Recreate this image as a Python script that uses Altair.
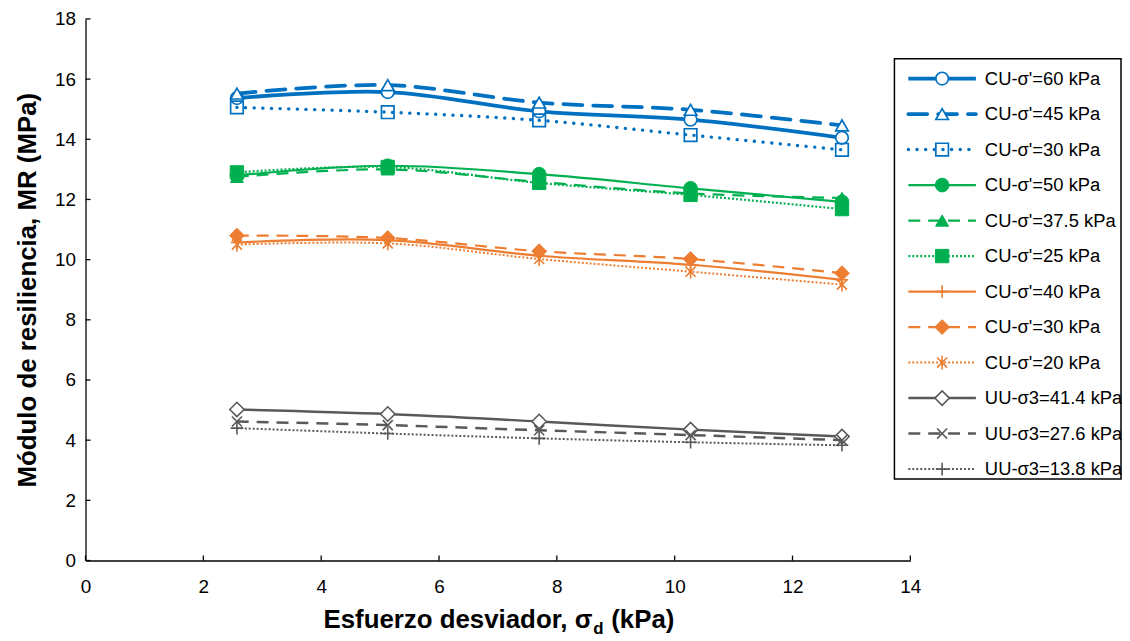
import altair as alt
import pandas as pd

# ---------------- data ----------------
X_VALUES = [2.57, 5.13, 7.70, 10.27, 12.84]

SERIES_LABELS = [
    "CU-σ'=60 kPa", "CU-σ'=45 kPa", "CU-σ'=30 kPa",
    "CU-σ'=50 kPa", "CU-σ'=37.5 kPa", "CU-σ'=25 kPa",
    "CU-σ'=40 kPa", "CU-σ'=30 kPa", "CU-σ'=20 kPa",
    "UU-σ3=41.4 kPa", "UU-σ3=27.6 kPa", "UU-σ3=13.8 kPa",
]

MR_CU_60 = [15.37, 15.57, 14.93, 14.65, 14.05]
MR_CU_45 = [15.52, 15.80, 15.22, 14.98, 14.46]
MR_CU_30_BLUE = [15.06, 14.90, 14.63, 14.14, 13.65]
MR_CU_50 = [12.80, 13.12, 12.84, 12.37, 11.92]
MR_CU_37_5 = [12.75, 13.00, 12.58, 12.20, 12.05]
MR_CU_25 = [12.90, 13.08, 12.55, 12.15, 11.68]
MR_CU_40 = [10.57, 10.65, 10.13, 9.83, 9.33]
MR_CU_30_ORANGE = [10.80, 10.72, 10.28, 10.02, 9.55]
MR_CU_20 = [10.50, 10.54, 10.02, 9.60, 9.17]
MR_UU_41_4 = [5.02, 4.87, 4.62, 4.35, 4.12]
MR_UU_27_6 = [4.62, 4.50, 4.33, 4.17, 4.00]
MR_UU_13_8 = [4.40, 4.22, 4.06, 3.93, 3.83]

SERIES_VALUES = [
    MR_CU_60, MR_CU_45, MR_CU_30_BLUE,
    MR_CU_50, MR_CU_37_5, MR_CU_25,
    MR_CU_40, MR_CU_30_ORANGE, MR_CU_20,
    MR_UU_41_4, MR_UU_27_6, MR_UU_13_8,
]

X_TICKS = [0, 2, 4, 6, 8, 10, 12, 14]
Y_TICKS = [0, 2, 4, 6, 8, 10, 12, 14, 16, 18]

# ---------------- styles ----------------
FONT = "Liberation Sans"
BLUE = "#0070C0"
GREEN = "#00B050"
ORANGE = "#ED7D31"
GRAY = "#595959"
PLUS = "M-1,0L1,0M0,-1L0,1"
XMARK = "M-0.8,-0.8L0.8,0.8M-0.8,0.8L0.8,-0.8"
ASTER = "M-0.8,-0.8L0.8,0.8M-0.8,0.8L0.8,-0.8M0,-1.1L0,1.1"

STYLES = [
    dict(color=BLUE, width=3.8, dash=None, cap="butt", shape="circle", size=160, fill="white", mw=1.7),
    dict(color=BLUE, width=3.8, dash=[19, 11], cap="round", shape="triangle-up", size=160, fill="white", mw=1.7),
    dict(color=BLUE, width=3.4, dash=[0.1, 8.6], cap="round", shape="square", size=160, fill=None, mw=1.7),
    dict(color=GREEN, width=2.2, dash=None, cap="butt", shape="circle", size=190, fill=GREEN, mw=1.0),
    dict(color=GREEN, width=2.2, dash=[12, 8], cap="butt", shape="triangle-up", size=170, fill=GREEN, mw=1.0),
    dict(color=GREEN, width=2.2, dash=[2, 2], cap="butt", shape="square", size=180, fill=GREEN, mw=1.0),
    dict(color=ORANGE, width=2.2, dash=None, cap="butt", shape=PLUS, size=160, fill=None, mw=1.6),
    dict(color=ORANGE, width=2.2, dash=[12, 8], cap="butt", shape="diamond", size=220, fill=ORANGE, mw=1.0),
    dict(color=ORANGE, width=2.0, dash=[2, 2], cap="butt", shape=ASTER, size=160, fill=None, mw=1.6),
    dict(color=GRAY, width=2.5, dash=None, cap="butt", shape="diamond", size=210, fill="white", mw=1.6),
    dict(color=GRAY, width=2.5, dash=[12, 8], cap="butt", shape=XMARK, size=160, fill=None, mw=1.6),
    dict(color=GRAY, width=2.0, dash=[2, 2], cap="butt", shape=PLUS, size=160, fill=None, mw=1.6),
]

W, H = 830, 545
TOP = 9

X_ENC = alt.X(
    "x:Q",
    scale=alt.Scale(domain=[0, 14], nice=False, zero=False),
    axis=alt.Axis(values=X_TICKS, ticks=False, tickSize=0, grid=False, domainColor="black",
                  domainWidth=1.3, labelFont=FONT, labelFontSize=19, labelColor="black",
                  labelPadding=17, labelFlush=False, title=None),
)
Y_ENC = alt.Y(
    "mr:Q",
    scale=alt.Scale(domain=[0, 18], nice=False, zero=False),
    axis=alt.Axis(values=Y_TICKS, ticks=False, tickSize=0, grid=False, domainColor="black",
                  domainWidth=1.3, labelFont=FONT, labelFontSize=19, labelColor="black",
                  labelPadding=10, labelFlush=False,
                  title="Módulo de resiliencia, MR (MPa)", titleFont=FONT, titleFontSize=26,
                  titleFontWeight="bold", titleColor="black", titlePadding=14),
)


def point_mark(s):
    if s["fill"] is None:
        return dict(shape=s["shape"], size=s["size"], filled=False, stroke=s["color"],
                    strokeWidth=s["mw"], opacity=1)
    return dict(shape=s["shape"], size=s["size"], filled=True, fill=s["fill"], stroke=s["color"],
                strokeWidth=s["mw"], opacity=1)


def line_mark(s):
    d = dict(color=s["color"], strokeWidth=s["width"], strokeCap=s["cap"], interpolate="cardinal")
    if s["dash"] is not None:
        d["strokeDash"] = s["dash"]
    return d


main_layers = []
# inward tick marks
main_layers.append(
    alt.Chart(pd.DataFrame({"x": X_TICKS})).mark_rule(color="black", strokeWidth=1.3)
    .encode(x=X_ENC, y=alt.value(H), y2=alt.value(H - 5))
)
main_layers.append(
    alt.Chart(pd.DataFrame({"mr": Y_TICKS})).mark_rule(color="black", strokeWidth=1.3)
    .encode(y=Y_ENC, x=alt.value(0), x2=alt.value(5))
)

for i, (lab, vals) in enumerate(zip(SERIES_LABELS, SERIES_VALUES)):
    s = STYLES[i]
    df = pd.DataFrame({"x": X_VALUES, "mr": vals, "serie": [lab] * len(vals)})
    base = alt.Chart(df)
    main_layers.append(base.mark_line(**line_mark(s)).encode(x=X_ENC, y=Y_ENC))
    main_layers.append(base.mark_point(**point_mark(s)).encode(x=X_ENC, y=Y_ENC))

# x-axis title with subscript d
one = alt.Data(values=[{}])
P = 510
TY = 613
main_layers.append(alt.Chart(one).mark_text(
    text="Esfuerzo desviador, σ", align="right", baseline="alphabetic", font=FONT,
    fontSize=26, fontWeight="bold", color="black").encode(x=alt.value(P), y=alt.value(TY)))
main_layers.append(alt.Chart(one).mark_text(
    text="d", align="left", baseline="alphabetic", font=FONT,
    fontSize=17, fontWeight="bold", color="black").encode(x=alt.value(P + 1), y=alt.value(TY + 6)))
main_layers.append(alt.Chart(one).mark_text(
    text="(kPa)", align="left", baseline="alphabetic", font=FONT,
    fontSize=26, fontWeight="bold", color="black").encode(x=alt.value(P + 19), y=alt.value(TY)))

main = alt.layer(*main_layers)

# ---------------- legend (own scales) ----------------
LX = alt.Scale(domain=[0, 1], range=[828, 896], nice=False, zero=False)
LY = alt.Scale(domain=[0, 11], range=[60, 453], nice=False, zero=False)

leg_layers = [
    alt.Chart(one).mark_rect(fill="white", stroke="black", strokeWidth=1.5).encode(
        x=alt.value(814), x2=alt.value(1042), y=alt.value(40), y2=alt.value(463))
]
for i, lab in enumerate(SERIES_LABELS):
    s = STYLES[i]
    ldf = pd.DataFrame({"row": [i], "label": [lab]})
    lb = alt.Chart(ldf)
    rule = dict(color=s["color"], strokeWidth=s["width"], strokeCap=s["cap"])
    if s["dash"] is not None:
        rule["strokeDash"] = s["dash"]
    leg_layers.append(lb.mark_rule(**rule).encode(
        x=alt.XDatum(0, type="quantitative", scale=LX, axis=None),
        x2=alt.X2Datum(1),
        y=alt.Y("row:Q", scale=LY, axis=None)))
    leg_layers.append(lb.mark_point(**point_mark(s)).encode(
        x=alt.XDatum(0.5, type="quantitative", scale=LX, axis=None),
        y=alt.Y("row:Q", scale=LY, axis=None)))

leg_df = pd.DataFrame({"row": list(range(len(SERIES_LABELS))), "label": SERIES_LABELS})
leg_layers.append(alt.Chart(leg_df).mark_text(
    align="left", baseline="middle", dx=9, font=FONT, fontSize=18.5, color="black").encode(
    x=alt.XDatum(1, type="quantitative", scale=LX, axis=None),
    y=alt.Y("row:Q", scale=LY, axis=None),
    text="label:N"))

legend = alt.layer(*leg_layers)

chart = alt.layer(main, legend).resolve_scale(x="independent", y="independent").properties(
    width=W, height=H,
    autosize=alt.AutoSizeParams(type="none"),
    padding={"left": 78, "top": TOP, "right": 213, "bottom": 80},
).configure_view(stroke=None)

chart.save("out.html", embed_options={"renderer": "svg", "actions": False})
